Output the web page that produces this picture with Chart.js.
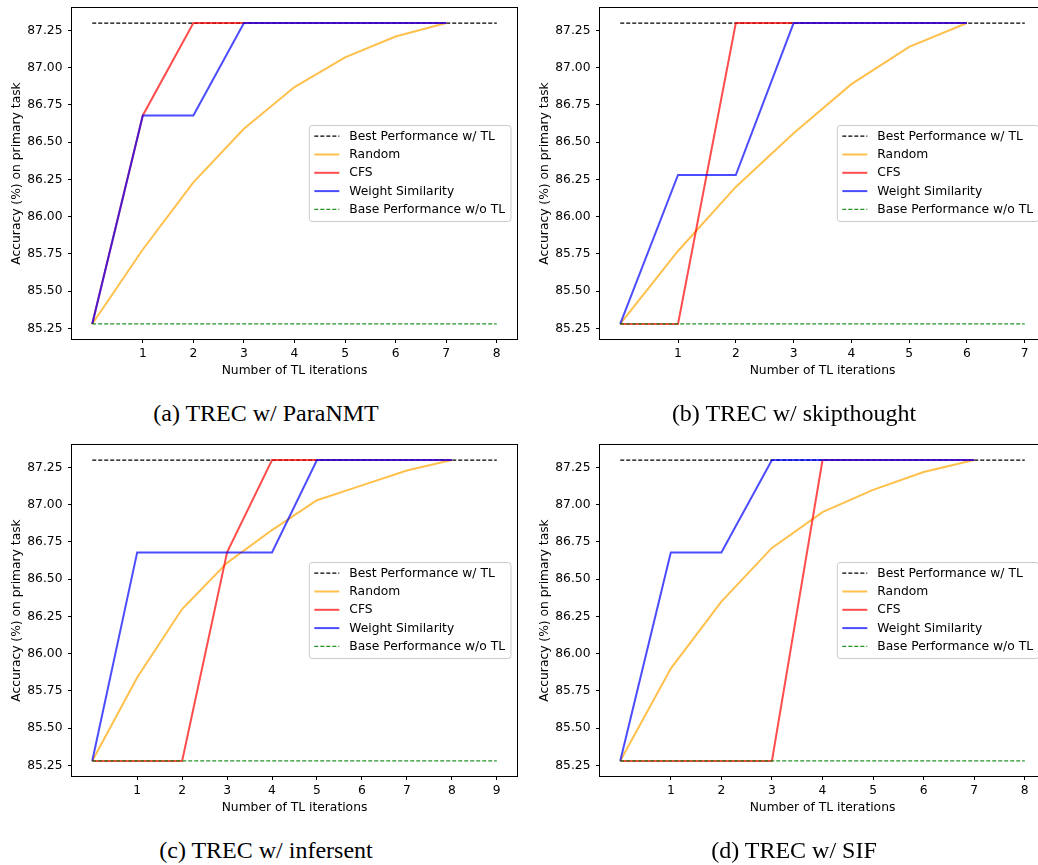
<!DOCTYPE html>
<html>
<head>
<meta charset="utf-8">
<title>TREC - accuracy vs TL iterations</title>
<script src="https://cdn.jsdelivr.net/npm/chart.js@4.4.1/dist/chart.umd.min.js"></script>
<style>
	html, body { margin: 0; padding: 0; background: #fff; overflow: hidden; }
	body { width: 1038px; height: 865px; position: relative; }
	.panel { position: absolute; width: 540px; height: 392px; }
	.caption {
		position: absolute; width: 400px; text-align: center;
		font-family: 'Liberation Serif', 'Times New Roman', serif;
		font-size: 24px; line-height: 28px; color: #000;
	}
</style>
</head>
<body>
<div class="panel" style="left:0;top:0"><canvas id="chartA" width="540" height="392"></canvas></div>
<div class="panel" style="left:528px;top:0"><canvas id="chartB" width="540" height="392"></canvas></div>
<div class="panel" style="left:0;top:437px"><canvas id="chartC" width="540" height="392"></canvas></div>
<div class="panel" style="left:528px;top:437px"><canvas id="chartD" width="540" height="392"></canvas></div>

<div class="caption" style="left:66px;top:399px">(a) TREC w/ ParaNMT</div>
<div class="caption" style="left:594px;top:399px">(b) TREC w/ skipthought</div>
<div class="caption" style="left:66px;top:836px">(c) TREC w/ infersent</div>
<div class="caption" style="left:594px;top:836px">(d) TREC w/ SIF</div>

<script>
// reference lines
const bestAcc = 87.30;
const baseAcc = 85.28;
const yTicks = [85.25, 85.50, 85.75, 86.00, 86.25, 86.50, 86.75, 87.00, 87.25];

// (a) ParaNMT
const ticksParaNMT = [1, 2, 3, 4, 5, 6, 7, 8];
const randomParaNMT = [85.28, 85.78, 86.23, 86.59, 86.87, 87.07, 87.21, 87.30];
const cfsParaNMT = [85.28, 86.68, 87.30, 87.30, 87.30, 87.30, 87.30, 87.30];
const wsParaNMT = [85.28, 86.68, 86.68, 87.30, 87.30, 87.30, 87.30, 87.30];

// (b) skipthought
const ticksSkip = [1, 2, 3, 4, 5, 6, 7];
const randomSkip = [85.28, 85.77, 86.20, 86.56, 86.89, 87.14, 87.30];
const cfsSkip = [85.28, 85.28, 87.30, 87.30, 87.30, 87.30, 87.30];
const wsSkip = [85.28, 86.28, 86.28, 87.30, 87.30, 87.30, 87.30];

// (c) infersent
const ticksInfer = [1, 2, 3, 4, 5, 6, 7, 8, 9];
const randomInfer = [85.28, 85.84, 86.30, 86.61, 86.83, 87.03, 87.13, 87.23, 87.30];
const cfsInfer = [85.28, 85.28, 85.28, 86.68, 87.30, 87.30, 87.30, 87.30, 87.30];
const wsInfer = [85.28, 86.68, 86.68, 86.68, 86.68, 87.30, 87.30, 87.30, 87.30];

// (d) SIF
const ticksSIF = [1, 2, 3, 4, 5, 6, 7, 8];
const randomSIF = [85.28, 85.90, 86.35, 86.71, 86.95, 87.10, 87.22, 87.30];
const cfsSIF = [85.28, 85.28, 85.28, 85.28, 87.30, 87.30, 87.30, 87.30];
const wsSIF = [85.28, 86.68, 86.68, 87.30, 87.30, 87.30, 87.30, 87.30];

Chart.defaults.font.family = "'DejaVu Sans', 'Liberation Sans', sans-serif";
Chart.defaults.font.size = 12.3;
Chart.defaults.color = '#000';

// box around the axes + legend at centre right, like matplotlib
const boxLegend = {
	id: 'boxLegend',
	afterDraw(chart) {
		const { ctx, chartArea } = chart;
		ctx.save();
		ctx.strokeStyle = '#000';
		ctx.lineWidth = 1;
		ctx.setLineDash([]);
		ctx.strokeRect(chartArea.left - 0.5, chartArea.top - 0.5, chartArea.right - chartArea.left + 1, chartArea.bottom - chartArea.top + 1);

		ctx.font = "12.3px 'DejaVu Sans', sans-serif";
		const sets = chart.data.datasets;
		let maxW = 0;
		sets.forEach(ds => { maxW = Math.max(maxW, ctx.measureText(ds.label).width); });
		const rowH = 18.3;
		const w = 40 + maxW + 6;
		const h = 96;
		const x = chartArea.right - 6 - w;
		const y = (chartArea.top + chartArea.bottom) / 2 - h / 2;
		const r = 3;
		ctx.beginPath();
		ctx.moveTo(x + r, y);
		ctx.lineTo(x + w - r, y);
		ctx.arcTo(x + w, y, x + w, y + r, r);
		ctx.lineTo(x + w, y + h - r);
		ctx.arcTo(x + w, y + h, x + w - r, y + h, r);
		ctx.lineTo(x + r, y + h);
		ctx.arcTo(x, y + h, x, y + h - r, r);
		ctx.lineTo(x, y + r);
		ctx.arcTo(x, y, x + r, y, r);
		ctx.closePath();
		ctx.fillStyle = 'rgba(255,255,255,0.8)';
		ctx.fill();
		ctx.strokeStyle = '#cccccc';
		ctx.stroke();

		sets.forEach((ds, i) => {
			const cy = y + 10.7 + i * rowH;
			ctx.strokeStyle = ds.borderColor;
			ctx.lineWidth = ds.borderWidth;
			ctx.setLineDash(ds.borderDash || []);
			ctx.beginPath();
			ctx.moveTo(x + 5, cy);
			ctx.lineTo(x + 30, cy);
			ctx.stroke();
			ctx.setLineDash([]);
			ctx.fillStyle = '#000';
			ctx.textBaseline = 'middle';
			ctx.fillText(ds.label, x + 40, cy + 0.5);
		});
		ctx.restore();
	}
};

function toPoints(values) {
	return values.map((y, i) => ({ x: i, y: y }));
}

function makeChart(id, ticks, random, cfs, ws) {
	const last = ticks[ticks.length - 1];
	const xPad = last * 0.05;
	const yPad = (bestAcc - baseAcc) * 0.05;

	new Chart(document.getElementById(id), {
		type: 'line',
		data: {
			datasets: [
				{
					label: 'Best Performance w/ TL',
					data: [{ x: 0, y: bestAcc }, { x: last, y: bestAcc }],
					borderColor: '#000',
					borderWidth: 1.2,
					borderDash: [4, 2],
					order: 4
				},
				{
					label: 'Random',
					data: toPoints(random),
					borderColor: 'rgba(255,165,0,0.7)',
					borderWidth: 2,
					order: 3
				},
				{
					label: 'CFS',
					data: toPoints(cfs),
					borderColor: 'rgba(255,0,0,0.7)',
					borderWidth: 2,
					order: 2
				},
				{
					label: 'Weight Similarity',
					data: toPoints(ws),
					borderColor: 'rgba(0,0,255,0.7)',
					borderWidth: 2,
					order: 1
				},
				{
					label: 'Base Performance w/o TL',
					data: [{ x: 0, y: baseAcc }, { x: last, y: baseAcc }],
					borderColor: 'rgba(0,128,0,0.85)',
					borderWidth: 1.2,
					borderDash: [4, 2],
					order: 0
				}
			]
		},
		options: {
			responsive: false,
			animation: false,
			events: [],
			layout: { padding: { left: 0, top: 8, right: 23, bottom: 0 } },
			elements: { point: { radius: 0 }, line: { tension: 0 } },
			plugins: { legend: { display: false }, tooltip: { enabled: false } },
			scales: {
				x: {
					type: 'linear',
					min: -xPad,
					max: last + xPad,
					afterBuildTicks: s => { s.ticks = ticks.map(v => ({ value: v })); },
					afterFit: s => { s.height = 53; s.paddingLeft = 0; s.paddingRight = 0; },
					ticks: { padding: 3, autoSkip: false, maxRotation: 0, callback: v => String(v) },
					grid: { drawOnChartArea: false, drawTicks: true, tickLength: 4, color: '#000' },
					border: { display: false },
					title: { display: true, text: 'Number of TL iterations', padding: { top: 0, bottom: 14 } }
				},
				y: {
					type: 'linear',
					min: baseAcc - yPad,
					max: bestAcc + yPad,
					afterBuildTicks: s => { s.ticks = yTicks.map(v => ({ value: v })); },
					afterFit: s => { s.width = 72; s.paddingTop = 0; s.paddingBottom = 0; },
					ticks: { padding: 5.5, autoSkip: false, callback: v => Number(v).toFixed(2) },
					grid: { drawOnChartArea: false, drawTicks: true, tickLength: 4, color: '#000' },
					border: { display: false },
					title: { display: true, text: 'Accuracy (%) on primary task', padding: { top: 9, bottom: 0 } }
				}
			}
		},
		plugins: [boxLegend]
	});
}

makeChart('chartA', ticksParaNMT, randomParaNMT, cfsParaNMT, wsParaNMT);
makeChart('chartB', ticksSkip, randomSkip, cfsSkip, wsSkip);
makeChart('chartC', ticksInfer, randomInfer, cfsInfer, wsInfer);
makeChart('chartD', ticksSIF, randomSIF, cfsSIF, wsSIF);
</script>
</body>
</html>
